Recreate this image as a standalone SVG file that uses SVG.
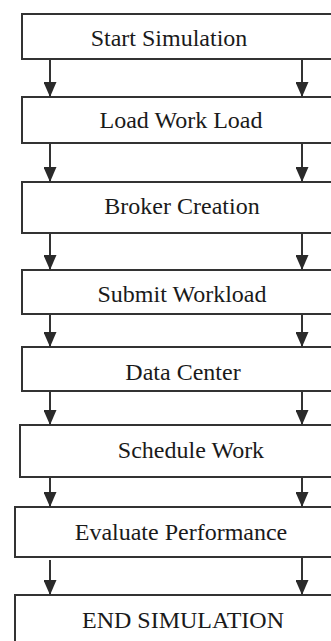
<svg xmlns="http://www.w3.org/2000/svg" width="331" height="641" viewBox="0 0 331 641">
  <defs>
    <style>
      .box { fill: #ffffff; stroke: #333333; stroke-width: 2; }
      .label { font-family: 'Liberation Serif', 'DejaVu Serif', serif; font-size: 24px; fill: #1a1a1a; text-anchor: middle; }
      .flow { stroke: #333333; stroke-width: 2; fill: none; marker-end: url(#head); }
    </style>
    <marker id="head" markerUnits="userSpaceOnUse" markerWidth="15" markerHeight="13" viewBox="0 -6.5 15 13" refX="15" refY="0" orient="auto">
      <path d="M0,-6.5 L15,0 L0,6.5 Z" fill="#2a2a2a"/>
    </marker>
  </defs>

  <rect width="331" height="641" fill="#ffffff"/>

  <!-- process steps, top to bottom -->
  <g id="start-simulation">
    <rect class="box" x="22" y="14" width="330" height="45"/>
    <text class="label" x="169" y="46">Start Simulation</text>
  </g>
  <g id="load-work-load">
    <rect class="box" x="22" y="97" width="330" height="46"/>
    <text class="label" x="181" y="128">Load Work Load</text>
  </g>
  <g id="broker-creation">
    <rect class="box" x="22" y="182" width="330" height="51"/>
    <text class="label" x="182" y="214">Broker Creation</text>
  </g>
  <g id="submit-workload">
    <rect class="box" x="22" y="270" width="330" height="44"/>
    <text class="label" x="182" y="302">Submit Workload</text>
  </g>
  <g id="data-center">
    <rect class="box" x="22" y="347" width="330" height="44"/>
    <text class="label" x="183" y="380">Data Center</text>
  </g>
  <g id="schedule-work">
    <rect class="box" x="20" y="425" width="330" height="52"/>
    <text class="label" x="191" y="458">Schedule Work</text>
  </g>
  <g id="evaluate-performance">
    <rect class="box" x="15" y="507" width="330" height="50"/>
    <text class="label" x="181" y="540">Evaluate Performance</text>
  </g>
  <g id="end-simulation">
    <rect class="box" x="15" y="595" width="330" height="60"/>
    <text class="label" x="183" y="628">END SIMULATION</text>
  </g>

  <!-- paired downward connectors between consecutive steps -->
  <g id="connectors">
    <line class="flow" x1="50" y1="59" x2="50" y2="97"/>
    <line class="flow" x1="302" y1="59" x2="302" y2="97"/>
    <line class="flow" x1="50" y1="143" x2="50" y2="182"/>
    <line class="flow" x1="302" y1="143" x2="302" y2="182"/>
    <line class="flow" x1="50" y1="233" x2="50" y2="270"/>
    <line class="flow" x1="302" y1="233" x2="302" y2="270"/>
    <line class="flow" x1="50" y1="314" x2="50" y2="347"/>
    <line class="flow" x1="302" y1="314" x2="302" y2="347"/>
    <line class="flow" x1="50" y1="391" x2="50" y2="425"/>
    <line class="flow" x1="302" y1="391" x2="302" y2="425"/>
    <line class="flow" x1="50" y1="477" x2="50" y2="507"/>
    <line class="flow" x1="302" y1="477" x2="302" y2="507"/>
    <line class="flow" x1="50" y1="560" x2="50" y2="595"/>
    <line class="flow" x1="302" y1="557" x2="302" y2="595"/>
  </g>
</svg>
